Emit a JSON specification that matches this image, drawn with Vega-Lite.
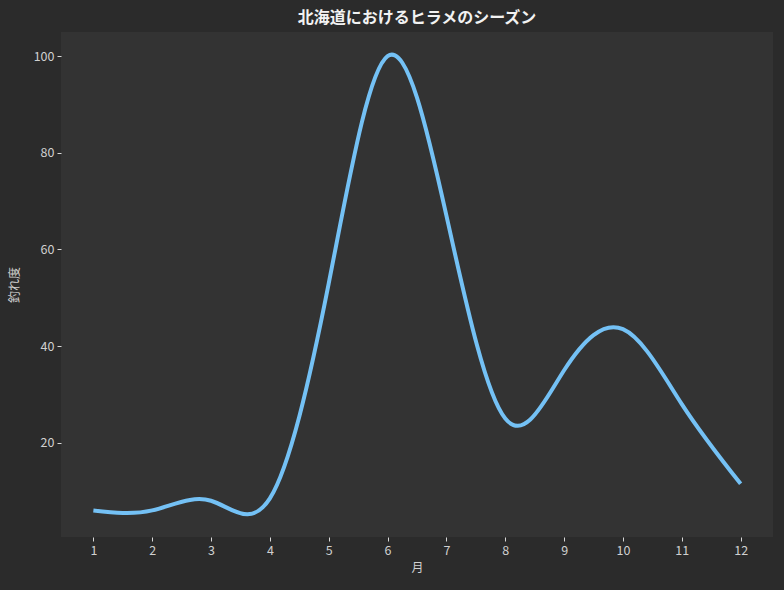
{
  "$schema": "https://vega.github.io/schema/vega-lite/v6.json",
  "autosize": "none",
  "width": 712,
  "height": 505,
  "padding": {"left": 61, "top": 32, "right": 11, "bottom": 53},
  "background": "#2b2b2b",
  "title": {
    "text": "北海道におけるヒラメのシーズン",
    "font": "Noto Sans CJK JP",
    "fontSize": 16,
    "fontWeight": "bold",
    "color": "#f2f2f2",
    "anchor": "middle",
    "offset": 6
  },
  "config": {
    "view": {"fill": "#333333", "stroke": null},
    "font": "Noto Sans CJK JP",
    "axis": {
      "domain": false,
      "grid": false,
      "tickColor": "#d8d8d8",
      "tickSize": 4,
      "tickWidth": 1,
      "labelColor": "#d0d0d0",
      "labelFont": "Noto Sans CJK JP",
      "labelFontSize": 12.5,
      "labelPadding": 3,
      "titleColor": "#d0d0d0",
      "titleFont": "Noto Sans CJK JP",
      "titleFontSize": 12,
      "titleFontWeight": "normal"
    }
  },
  "data": {
    "values": [
      {"month": 1, "score": 6},
      {"month": 2, "score": 6},
      {"month": 3, "score": 8},
      {"month": 4, "score": 8.5},
      {"month": 5, "score": 53},
      {"month": 6, "score": 100},
      {"month": 7, "score": 67},
      {"month": 8, "score": 25},
      {"month": 9, "score": 35},
      {"month": 10, "score": 43.5},
      {"month": 11, "score": 28},
      {"month": 12, "score": 11.5}
    ]
  },
  "mark": {
    "type": "line",
    "interpolate": "natural",
    "color": "#74c1f5",
    "strokeWidth": 4,
    "strokeCap": "butt"
  },
  "encoding": {
    "x": {
      "field": "month",
      "type": "quantitative",
      "scale": {"domain": [0.45, 12.55], "nice": false, "zero": false},
      "axis": {
        "title": "月",
        "values": [1, 2, 3, 4, 5, 6, 7, 8, 9, 10, 11, 12],
        "format": "d",
        "titlePadding": 6
      }
    },
    "y": {
      "field": "score",
      "type": "quantitative",
      "scale": {"domain": [0.5, 105], "nice": false, "zero": false},
      "axis": {
        "title": "釣れ度",
        "values": [20, 40, 60, 80, 100],
        "titlePadding": 12
      }
    }
  }
}
